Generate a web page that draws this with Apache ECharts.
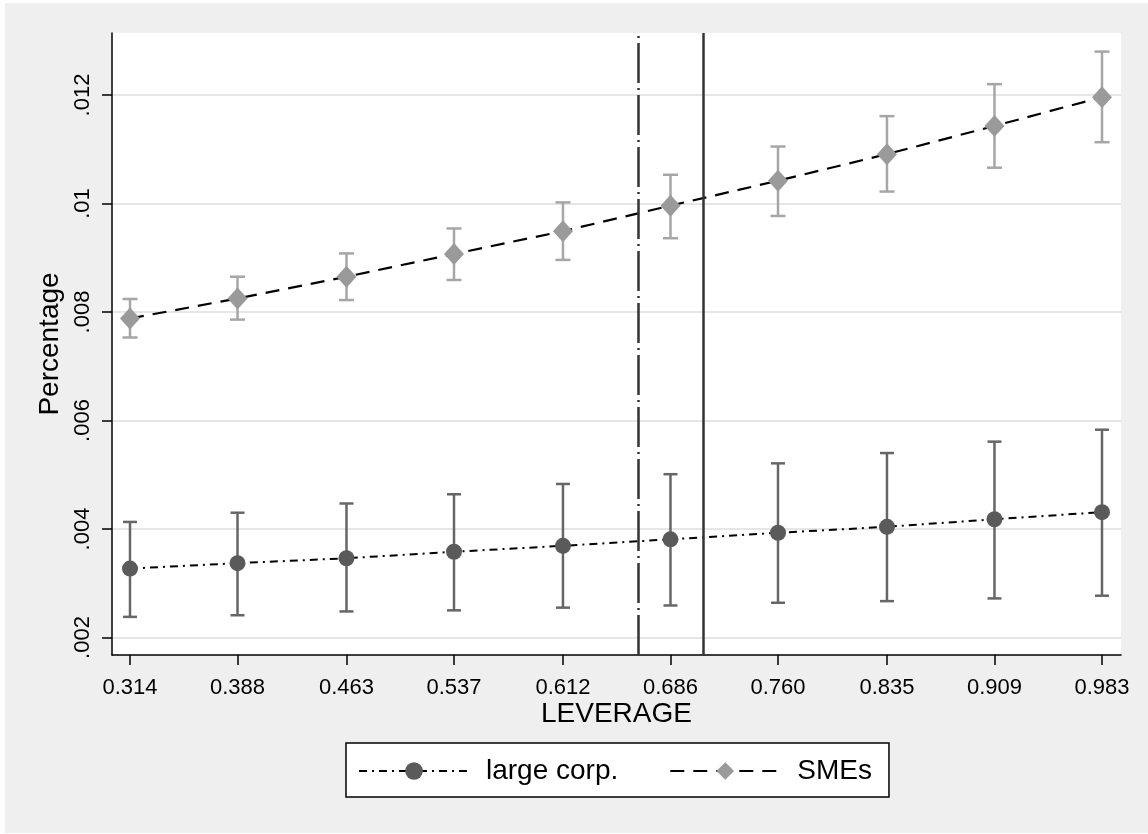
<!DOCTYPE html>
<html>
<head>
<meta charset="utf-8">
<script src="https://cdn.jsdelivr.net/npm/echarts@6/dist/echarts.min.js"></script>
<style>
html,body{margin:0;padding:0;background:#fff;}
#chart{width:1148px;height:834px;}
</style>
</head>
<body>
<div id="chart"></div>
<script>
// ---- data ----
var leverage = [0.314, 0.388, 0.463, 0.537, 0.612, 0.686, 0.760, 0.835, 0.909, 0.983];
var xTickLabels = ['0.314', '0.388', '0.463', '0.537', '0.612', '0.686', '0.760', '0.835', '0.909', '0.983'];
var yTicks = [0.002, 0.004, 0.006, 0.008, 0.010, 0.012];
var yTickLabels = ['.002', '.004', '.006', '.008', '.01', '.012'];

var largeMean = [0.00327, 0.00337, 0.00346, 0.00358, 0.00369, 0.00381, 0.00393, 0.00404, 0.00418, 0.00431];
var largeLow  = [0.00238, 0.00241, 0.00248, 0.00250, 0.00255, 0.00259, 0.00264, 0.00267, 0.00272, 0.00277];
var largeHigh = [0.00413, 0.00430, 0.00447, 0.00464, 0.00483, 0.00501, 0.00521, 0.00540, 0.00561, 0.00583];

var smeMean = [0.00788, 0.00825, 0.00865, 0.00907, 0.00949, 0.00996, 0.01042, 0.01091, 0.01143, 0.01196];
var smeLow  = [0.00753, 0.00786, 0.00822, 0.00859, 0.00896, 0.00936, 0.00977, 0.01022, 0.01066, 0.01113];
var smeHigh = [0.00824, 0.00865, 0.00908, 0.00954, 0.01002, 0.01053, 0.01105, 0.01161, 0.01220, 0.01280];

var dashDotThreshold = 0.6635;
var solidThreshold = 0.7085;

var seriesNames = ['large corp.', 'SMEs'];
var xTitle = 'LEVERAGE';
var yTitle = 'Percentage';

// ---- chart ----
var FONT = '"Liberation Sans", Arial, sans-serif';

function pairs(xs, ys) { return xs.map(function (x, i) { return [x, ys[i]]; }); }

function errorBars(name, low, high, color, capHalf) {
  return {
    type: 'custom',
    name: name,
    silent: true,
    z: 1,
    data: leverage.map(function (x, i) { return [x, low[i], high[i]]; }),
    encode: { x: 0, y: [1, 2] },
    renderItem: function (params, api) {
      var x = api.value(0);
      var lo = api.coord([x, api.value(1)]);
      var hi = api.coord([x, api.value(2)]);
      var st = { stroke: color, lineWidth: 2.5 };
      return {
        type: 'group',
        children: [
          { type: 'line', shape: { x1: lo[0], y1: lo[1], x2: hi[0], y2: hi[1] }, style: st },
          { type: 'line', shape: { x1: lo[0] - capHalf, y1: lo[1], x2: lo[0] + capHalf, y2: lo[1] }, style: st },
          { type: 'line', shape: { x1: hi[0] - capHalf, y1: hi[1], x2: hi[0] + capHalf, y2: hi[1] }, style: st }
        ]
      };
    }
  };
}

var chart = echarts.init(document.getElementById('chart'), null, { renderer: 'canvas' });
chart.setOption({
  animation: false,
  backgroundColor: '#ffffff',
  textStyle: { fontFamily: FONT },
  graphic: {
    elements: [
      { type: 'rect', z: -100, silent: true, shape: { x: 5, y: 3, width: 1143, height: 830 }, style: { fill: '#efefef' } }
    ]
  },
  grid: {
    left: 112, right: 27, top: 33, bottom: 179,
    show: true, backgroundColor: '#ffffff', borderWidth: 0
  },
  legend: {
    data: seriesNames,
    left: 346, top: 743,
    orient: 'horizontal',
    padding: [14, 17, 12, 12],
    itemGap: 51,
    itemWidth: 110,
    itemHeight: 22,
    backgroundColor: '#ffffff',
    borderColor: '#000000',
    borderWidth: 1.5,
    borderRadius: 0,
    textStyle: { fontFamily: FONT, fontSize: 28, color: '#000', padding: [0, 0, 0, 12] }
  },
  xAxis: {
    type: 'value',
    min: 0.30161, max: 0.99608,
    name: xTitle,
    nameLocation: 'middle',
    nameGap: 45,
    nameMoveOverlap: false,
    nameTextStyle: { fontFamily: FONT, fontSize: 28, color: '#000' },
    axisLine: { show: true, onZero: false, lineStyle: { color: '#000', width: 1.5 } },
    axisTick: { show: true, length: 10, customValues: leverage, lineStyle: { color: '#000', width: 1.5 } },
    axisLabel: {
      customValues: leverage,
      margin: 22,
      fontFamily: FONT, fontSize: 22, color: '#000',
      formatter: function (v) {
        var best = 0;
        for (var i = 1; i < leverage.length; i++) {
          if (Math.abs(leverage[i] - v) < Math.abs(leverage[best] - v)) best = i;
        }
        return xTickLabels[best];
      }
    },
    splitLine: { show: false }
  },
  yAxis: {
    type: 'value',
    min: 0.001677, max: 0.013143,
    name: yTitle,
    nameLocation: 'middle',
    nameGap: 48,
    nameMoveOverlap: false,
    nameRotate: 90,
    nameTextStyle: { fontFamily: FONT, fontSize: 28, color: '#000' },
    axisLine: { show: true, onZero: false, lineStyle: { color: '#000', width: 1.5 } },
    axisTick: { show: true, length: 10, customValues: yTicks, lineStyle: { color: '#000', width: 1.5 } },
    axisLabel: {
      customValues: yTicks,
      rotate: 90,
      margin: 18,
      fontFamily: FONT, fontSize: 22, color: '#000',
      formatter: function (v) {
        var best = 0;
        for (var i = 1; i < yTicks.length; i++) {
          if (Math.abs(yTicks[i] - v) < Math.abs(yTicks[best] - v)) best = i;
        }
        return yTickLabels[best];
      }
    },
    splitLine: { show: true, customValues: yTicks, lineStyle: { color: '#e6e6e6', width: 2 } }
  },
  series: [
    errorBars('large corp. CI', largeLow, largeHigh, '#666666', 7),
    errorBars('SMEs CI', smeLow, smeHigh, '#a6a6a6', 7.5),
    {
      type: 'line',
      name: seriesNames[0],
      z: 3,
      data: pairs(leverage, largeMean),
      symbol: 'circle',
      symbolSize: 16,
      itemStyle: { color: '#5a5a5a' },
      lineStyle: { color: '#000', width: 2, type: [8, 5, 2, 5] },
      emphasis: { disabled: true }
    },
    {
      type: 'line',
      name: seriesNames[1],
      z: 3,
      data: pairs(leverage, smeMean),
      symbol: 'diamond',
      symbolSize: [20, 22],
      itemStyle: { color: '#9a9a9a' },
      lineStyle: { color: '#000', width: 2.2, type: [14, 9] },
      emphasis: { disabled: true },
      markLine: {
        silent: true,
        symbol: 'none',
        precision: 6,
        label: { show: false },
        data: [
          { xAxis: dashDotThreshold, lineStyle: { color: '#333', width: 2.5, type: [40, 5, 2, 5] } },
          { xAxis: solidThreshold, lineStyle: { color: '#333', width: 2.5, type: 'solid' } }
        ]
      }
    }
  ]
});
</script>
</body>
</html>
